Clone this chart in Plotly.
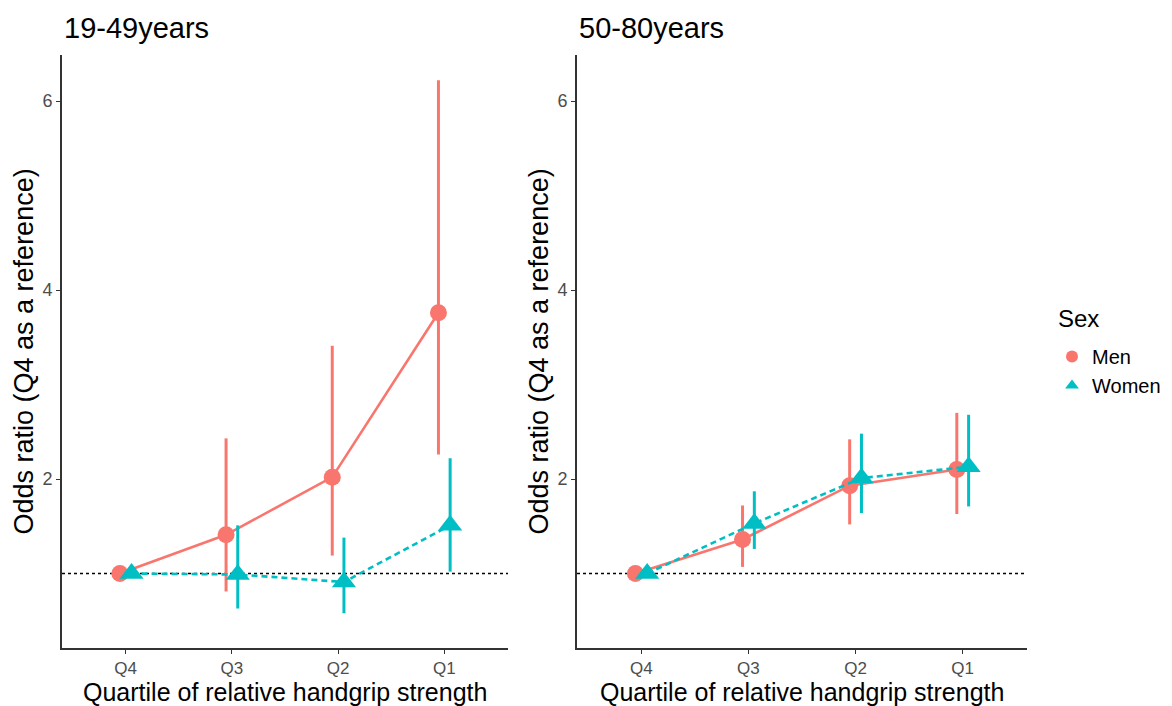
import plotly.graph_objects as go

quartiles = ["Q4", "Q3", "Q2", "Q1"]
panels = ["19-49years", "50-80years"]

# 19-49 years
men_young = [1.0, 1.41, 2.02, 3.76]
men_young_lo = [1.0, 0.81, 1.19, 2.26]
men_young_hi = [1.0, 2.43, 3.41, 6.22]
women_young = [1.0, 0.99, 0.91, 1.51]
women_young_lo = [1.0, 0.63, 0.58, 1.02]
women_young_hi = [1.0, 1.51, 1.38, 2.22]

# 50-80 years
men_old = [1.0, 1.36, 1.93, 2.10]
men_old_lo = [1.0, 1.07, 1.52, 1.63]
men_old_hi = [1.0, 1.72, 2.42, 2.70]
women_old = [1.0, 1.53, 2.01, 2.13]
women_old_lo = [1.0, 1.26, 1.64, 1.71]
women_old_hi = [1.0, 1.87, 2.48, 2.68]

MEN_C = "#F8766D"
WOMEN_C = "#00BFC4"
FONT = "Liberation Sans, Arial, Helvetica, sans-serif"
DODGE = 0.055

fig = go.Figure()

pos = [i + 1 for i in range(len(quartiles))]

def add_series(xaxis, yaxis, vals, lo, hi, color, sym, size, dash, offset):
    xs = [p + offset for p in pos]
    fig.add_trace(go.Scatter(
        x=xs, y=vals, xaxis=xaxis, yaxis=yaxis, mode="lines+markers",
        line=dict(color=color, width=2.6, dash=dash),
        marker=dict(color=color, size=size, symbol=sym, line=dict(width=0)),
        error_y=dict(type="data", symmetric=False,
                     array=[h - v for h, v in zip(hi, vals)],
                     arrayminus=[v - l for v, l in zip(vals, lo)],
                     color=color, thickness=3, width=0),
        showlegend=False, hoverinfo="skip"))

add_series("x", "y", men_young, men_young_lo, men_young_hi, MEN_C, "circle", 17, "solid", -DODGE)
add_series("x", "y", women_young, women_young_lo, women_young_hi, WOMEN_C, "triangle-up", 21, "6px,4px", DODGE)
add_series("x2", "y2", men_old, men_old_lo, men_old_hi, MEN_C, "circle", 17, "solid", -DODGE)
add_series("x2", "y2", women_old, women_old_lo, women_old_hi, WOMEN_C, "triangle-up", 21, "6px,4px", DODGE)

# legend-only entries (markers only)
fig.add_trace(go.Scatter(x=[None], y=[None], mode="markers", name="Men",
                         marker=dict(color=MEN_C, size=18, symbol="circle")))
fig.add_trace(go.Scatter(x=[None], y=[None], mode="markers", name="Women",
                         marker=dict(color=WOMEN_C, size=20, symbol="triangle-up")))

ydom = [1 - 648 / 706, 1 - 55 / 706]
xdom1 = [62 / 1172, 508 / 1172]
xdom2 = [577 / 1172, 1027 / 1172]

axis_common = dict(
    showgrid=False, zeroline=False, showline=True, linecolor="#333333", linewidth=1.6,
    ticks="outside", ticklen=4, tickcolor="#333333", tickwidth=1.2,
    tickfont=dict(family=FONT, size=17, color="#4D4D4D"),
)
xcommon = dict(axis_common, range=[0.4, 4.6], tickvals=pos, ticktext=quartiles)
ycommon = dict(axis_common, range=[0.212, 6.487], tickvals=[2, 4, 6],
               tickfont=dict(family=FONT, size=18, color="#4D4D4D"))

fig.update_layout(
    width=1172, height=706,
    margin=dict(l=0, r=0, t=0, b=0),
    paper_bgcolor="white", plot_bgcolor="white",
    font=dict(family=FONT),
    xaxis=dict(xcommon, domain=xdom1, anchor="y"),
    yaxis=dict(ycommon, domain=ydom, anchor="x"),
    xaxis2=dict(xcommon, domain=xdom2, anchor="y2"),
    yaxis2=dict(ycommon, domain=ydom, anchor="x2"),
    legend=dict(
        x=1052 / 1172, y=1 - 337 / 706, xanchor="left", yanchor="top",
        font=dict(family=FONT, size=20, color="black"),
        bgcolor="rgba(0,0,0,0)", itemsizing="constant", tracegroupgap=0,
    ),
)

# legend title
fig.add_annotation(text="Sex", xref="paper", yref="paper", x=1056 / 1172, y=1 - 319 / 706,
                   xanchor="left", yanchor="middle", showarrow=False,
                   font=dict(family=FONT, size=24, color="black"))

# dotted reference lines at OR = 1
for xr, yr in [("x", "y"), ("x2", "y2")]:
    fig.add_shape(type="line", xref=f"{xr} domain", yref=yr, x0=0, x1=1, y0=1, y1=1,
                  line=dict(color="black", width=1.5, dash="dot"), layer="below")

# panel titles and axis titles
for dom, title in zip([xdom1, xdom2], panels):
    fig.add_annotation(text=title, xref="paper", yref="paper", x=dom[0], y=1 - 28 / 706,
                       xanchor="left", yanchor="middle", showarrow=False,
                       font=dict(family=FONT, size=29, color="black"))
    fig.add_annotation(text="Quartile of relative handgrip strength", xref="paper", yref="paper",
                       x=(dom[0] + dom[1]) / 2, y=1 - 692 / 706, xanchor="center", yanchor="middle",
                       showarrow=False,
                       font=dict(family=FONT, size=25, color="black"))
    fig.add_annotation(text="Odds ratio (Q4 as a reference)", xref="paper", yref="paper",
                       x=dom[0], y=(ydom[0] + ydom[1]) / 2, xanchor="right", yanchor="middle",
                       xshift=-22, textangle=-90, showarrow=False,
                       font=dict(family=FONT, size=27, color="black"))

fig.write_html("out.html", config={"displayModeBar": False},
               post_script="document.body.style.margin='0';document.body.style.overflow='hidden';")
